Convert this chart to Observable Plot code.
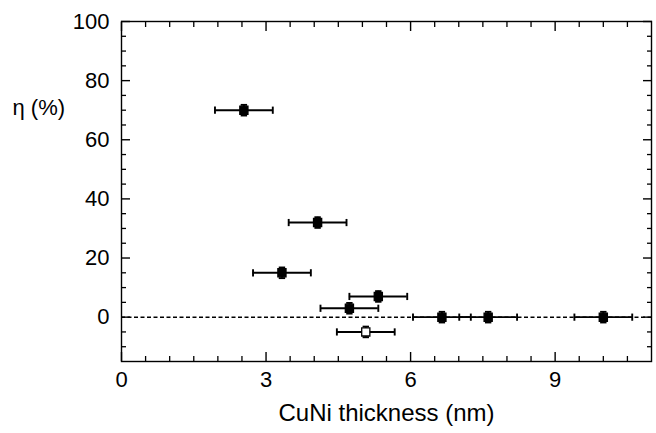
<!DOCTYPE html>
<html><head><meta charset="utf-8">
<script src="https://cdn.jsdelivr.net/npm/d3@7"></script>
<script src="https://cdn.jsdelivr.net/npm/@observablehq/plot@0.6"></script>
<style>body{margin:0;background:#fff;}</style>
</head><body><div id="chart"></div>
<script>
// Data
const filledX = [2.54, 3.33, 4.07, 4.73, 5.33, 6.65, 7.61, 10.0];
const filledY = [70, 15, 32, 3, 7, 0, 0, 0];
const filledXErr = [0.6, 0.6, 0.6, 0.6, 0.6, 0.6, 0.6, 0.6];
const filledYErr = [1.8, 1.8, 1.8, 1.8, 1.8, 1.8, 1.8, 1.8];
const openX = [5.07];
const openY = [-5];
const openXErr = [0.6];
const openYErr = [1.8];

const xMajorTicks = [0, 3, 6, 9];
const xMinorTicks = [0.5, 1, 1.5, 2, 2.5, 3.5, 4, 4.5, 5, 5.5, 6.5, 7, 7.5, 8, 8.5, 9.5, 10, 10.5];
const yMajorTicks = [0, 20, 40, 60, 80, 100];
const yMinorTicks = [-10, -5, 5, 10, 15, 25, 30, 35, 45, 50, 55, 65, 70, 75, 85, 90, 95];
const referenceLine = [0];

const xTitle = "CuNi thickness (nm)";
const yTitle = "η (%)";

const points = [
  ...filledX.map((x, i) => ({x, y: filledY[i], xe: filledXErr[i], ye: filledYErr[i], open: false})),
  ...openX.map((x, i) => ({x, y: openY[i], xe: openXErr[i], ye: openYErr[i], open: true}))
];

const vbar = {draw(ctx, size) { const h = Math.sqrt(size / Math.PI); ctx.moveTo(0, -h); ctx.lineTo(0, h); }};
const hbar = {draw(ctx, size) { const h = Math.sqrt(size / Math.PI); ctx.moveTo(-h, 0); ctx.lineTo(h, 0); }};

const font = "'Liberation Sans', Arial, Helvetica, sans-serif";
const sw = 1.9;

const chart = Plot.plot({
  width: 656,
  height: 433,
  marginLeft: 121,
  marginRight: 5,
  marginTop: 21,
  marginBottom: 72,
  style: {fontFamily: font, fontSize: "22px", color: "black", background: "white"},
  x: {domain: [0, 11], axis: null},
  y: {domain: [-15, 100], axis: null},
  marks: [
    Plot.ruleY(referenceLine, {stroke: "black", strokeWidth: 1.5, strokeDasharray: "4,2.5"}),
    // x error bars
    Plot.ruleY(points, {y: "y", x1: d => d.x - d.xe, x2: d => d.x + d.xe, stroke: "black", strokeWidth: sw}),
    Plot.dot(points, {x: d => d.x - d.xe, y: "y", symbol: vbar, r: 3.6, fill: "none", stroke: "black", strokeWidth: sw}),
    Plot.dot(points, {x: d => d.x + d.xe, y: "y", symbol: vbar, r: 3.6, fill: "none", stroke: "black", strokeWidth: sw}),
    // y error bars
    Plot.ruleX(points, {x: "x", y1: d => d.y - d.ye, y2: d => d.y + d.ye, stroke: "black", strokeWidth: sw}),
    Plot.dot(points, {x: "x", y: d => d.y - d.ye, symbol: hbar, r: 3.2, fill: "none", stroke: "black", strokeWidth: sw}),
    Plot.dot(points, {x: "x", y: d => d.y + d.ye, symbol: hbar, r: 3.2, fill: "none", stroke: "black", strokeWidth: sw}),
    // markers
    Plot.dot(points, {x: "x", y: "y", symbol: "square", r: 4.6, fill: d => d.open ? "white" : "black", stroke: "black", strokeWidth: 1.3, strokeLinejoin: "miter"}),
    // axes: inward ticks on all four sides
    Plot.axisX(xMajorTicks, {anchor: "bottom", tickSize: -9, tickPadding: 19, fontSize: 22, strokeWidth: 1.4, label: null}),
    Plot.axisX(xMinorTicks, {anchor: "bottom", tickSize: -5, tickFormat: () => "", strokeWidth: 1.3, label: null}),
    Plot.axisX(xMajorTicks, {anchor: "top", tickSize: -9, tickFormat: () => "", strokeWidth: 1.4, label: null}),
    Plot.axisX(xMinorTicks, {anchor: "top", tickSize: -5, tickFormat: () => "", strokeWidth: 1.3, label: null}),
    Plot.axisY(yMajorTicks, {anchor: "left", tickSize: -9, tickPadding: 21, fontSize: 22, strokeWidth: 1.4, label: null}),
    Plot.axisY(yMinorTicks, {anchor: "left", tickSize: -5, tickFormat: () => "", strokeWidth: 1.3, label: null}),
    Plot.axisY(yMajorTicks, {anchor: "right", tickSize: -9, tickFormat: () => "", strokeWidth: 1.4, label: null}),
    Plot.axisY(yMinorTicks, {anchor: "right", tickSize: -5, tickFormat: () => "", strokeWidth: 1.3, label: null}),
    Plot.frame({stroke: "black", strokeWidth: 1.4}),
    // titles
    Plot.text([xTitle], {frameAnchor: "bottom", dy: 52, lineAnchor: "middle", fontSize: 24, fill: "black"}),
    Plot.text([yTitle], {frameAnchor: "top-left", dx: -109, dy: 86, textAnchor: "start", lineAnchor: "middle", fontSize: 22, fill: "black"})
  ]
});
document.getElementById("chart").appendChild(chart);
</script>
</body></html>
